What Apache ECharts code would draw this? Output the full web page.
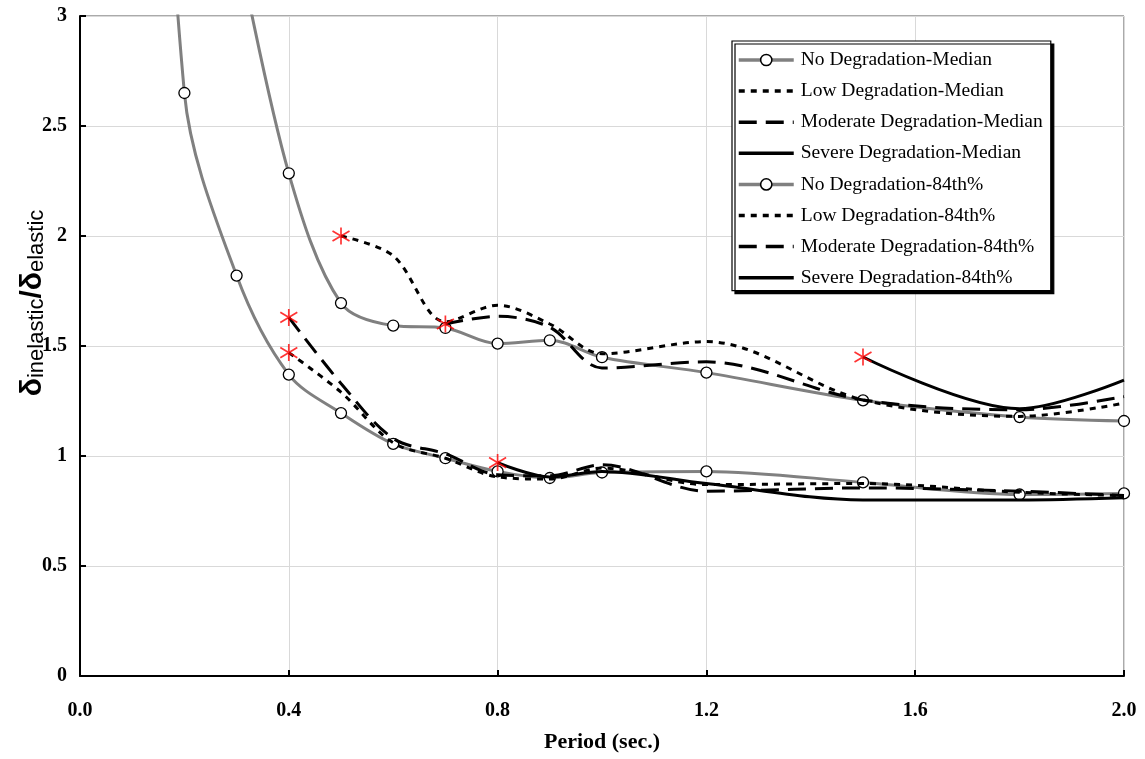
<!DOCTYPE html>
<html><head><meta charset="utf-8">
<script src="https://cdn.jsdelivr.net/npm/echarts@6/dist/echarts.min.js"></script>
<style>html,body{margin:0;padding:0;background:#fff}#c{width:1145px;height:759px}</style>
</head><body><div id="c"></div>
<script>
// ---- data ----
const xTicks = [0, 0.4, 0.8, 1.2, 1.6, 2.0];
const yTicks = [0, 0.5, 1, 1.5, 2, 2.5, 3];

const noMedT  = [0.1, 0.2, 0.3, 0.4, 0.5, 0.6, 0.7, 0.8, 0.9, 1.0, 1.2, 1.5, 1.8, 2.0];
const noMedV  = [7.0, 2.65, 1.82, 1.37, 1.195, 1.055, 0.99, 0.93, 0.90, 0.925, 0.93, 0.88, 0.825, 0.83];
const lowMedT = [0.4, 0.5, 0.6, 0.7, 0.8, 0.9, 1.0, 1.2, 1.5, 1.8, 2.0];
const lowMedV = [1.47, 1.29, 1.06, 0.99, 0.905, 0.895, 0.945, 0.87, 0.875, 0.835, 0.82];
const modMedT = [0.4, 0.5, 0.6, 0.7, 0.8, 0.9, 1.0, 1.2, 1.5, 1.8, 2.0];
const modMedV = [1.63, 1.33, 1.08, 1.01, 0.915, 0.91, 0.96, 0.84, 0.855, 0.84, 0.82];
const sevMedT = [0.8, 0.9, 1.0, 1.2, 1.5, 1.8, 2.0];
const sevMedV = [0.97, 0.905, 0.93, 0.875, 0.80, 0.80, 0.81];

const no84T  = [0.3, 0.4, 0.5, 0.6, 0.7, 0.8, 0.9, 1.0, 1.2, 1.5, 1.8, 2.0];
const no84V  = [3.35, 2.285, 1.695, 1.593, 1.582, 1.511, 1.526, 1.449, 1.379, 1.253, 1.177, 1.159];
const low84T = [0.5, 0.6, 0.7, 0.8, 0.9, 1.0, 1.2, 1.5, 1.8, 2.0];
const low84V = [2.0, 1.91, 1.61, 1.685, 1.60, 1.465, 1.52, 1.255, 1.18, 1.24];
const mod84T = [0.7, 0.8, 0.9, 1.0, 1.2, 1.5, 1.8, 2.0];
const mod84V = [1.60, 1.635, 1.585, 1.40, 1.428, 1.255, 1.21, 1.27];
const sev84T = [1.5, 1.8, 2.0];
const sev84V = [1.45, 1.215, 1.345];

const names = ['No Degradation-Median','Low Degradation-Median','Moderate Degradation-Median','Severe Degradation-Median',
               'No Degradation-84th%','Low Degradation-84th%','Moderate Degradation-84th%','Severe Degradation-84th%'];
const withMarkers = [true, false, false, false, true, false, false, false];

// ---- build ----
const pair = (t, v) => t.map((x, i) => [x, v[i]]);
const SMOOTH = 0.33;
const FONT = '"Liberation Serif","Times New Roman",serif';

function graySeries(name, t, v) {
  return { name, type: 'line', data: pair(t, v), smooth: SMOOTH, clip: true,
    symbol: 'circle', symbolSize: 11, showAllSymbol: true,
    lineStyle: { color: '#808080', width: 3 },
    itemStyle: { color: '#ffffff', borderColor: '#000', borderWidth: 1.3 }, z: 3 };
}
function blackSeries(name, t, v, dash) {
  return { name, type: 'line', data: pair(t, v), smooth: SMOOTH, clip: true,
    symbol: 'none',
    lineStyle: { color: '#000', width: 3, type: dash },
    itemStyle: { color: '#000' }, z: 4 };
}
const dotted = [6, 6], longDash = [18, 9];

const degraded = [[lowMedT, lowMedV], [modMedT, modMedV], [sevMedT, sevMedV], [low84T, low84V], [mod84T, mod84V], [sev84T, sev84V]];
const starData = degraded.map(([t, v]) => [t[0], v[0]]);

const series = [
  graySeries(names[0], noMedT, noMedV),
  blackSeries(names[1], lowMedT, lowMedV, dotted),
  blackSeries(names[2], modMedT, modMedV, longDash),
  blackSeries(names[3], sevMedT, sevMedV, 'solid'),
  graySeries(names[4], no84T, no84V),
  blackSeries(names[5], low84T, low84V, dotted),
  blackSeries(names[6], mod84T, mod84V, longDash),
  blackSeries(names[7], sev84T, sev84V, 'solid'),
  { name: 'start', type: 'scatter', data: starData, z: 10,
    symbol: 'path://M10,0 L10,20 M1,4 L19,16 M1,16 L19,4', symbolSize: [17, 17],
    itemStyle: { color: 'rgba(0,0,0,0)', borderColor: '#ff0000', borderWidth: 1.7 } }
];

const legendData = names.map((n, i) => withMarkers[i]
  ? { name: n, itemStyle: { color: '#ffffff', borderColor: '#000', borderWidth: 1.5 } }
  : { name: n, itemStyle: { color: 'rgba(0,0,0,0)', borderColor: 'rgba(0,0,0,0)', borderWidth: 0, opacity: 0 } });

const chart = echarts.init(document.getElementById('c'), null, { renderer: 'canvas' });
chart.setOption({
  animation: false,
  backgroundColor: '#fff',
  grid: { left: 80, right: 21, top: 16, bottom: 83, show: true, borderColor: '#555', borderWidth: 1 },
  xAxis: {
    type: 'value', min: xTicks[0], max: xTicks[xTicks.length - 1], interval: 0.4,
    name: 'Period (sec.)', nameLocation: 'middle', nameGap: 55,
    nameTextStyle: { fontFamily: FONT, fontWeight: 'bold', fontSize: 22, color: '#000' },
    axisLine: { show: true, onZero: false, lineStyle: { color: '#000', width: 2 } },
    axisTick: { show: true, inside: true, length: 6, lineStyle: { color: '#000', width: 2 } },
    axisLabel: { fontFamily: FONT, fontWeight: 'bold', fontSize: 20, color: '#000', margin: 25,
      formatter: v => v.toFixed(1) },
    splitLine: { show: true, lineStyle: { color: '#d9d9d9', width: 1 } }
  },
  yAxis: {
    type: 'value', min: yTicks[0], max: yTicks[yTicks.length - 1], interval: 0.5,
    axisLine: { show: true, onZero: false, lineStyle: { color: '#000', width: 2 } },
    axisTick: { show: true, inside: true, length: 6, lineStyle: { color: '#000', width: 2 } },
    axisLabel: { fontFamily: FONT, fontWeight: 'bold', fontSize: 20, color: '#000', margin: 13,
      formatter: v => String(v) },
    splitLine: { show: true, lineStyle: { color: '#d9d9d9', width: 1 } }
  },
  legend: {
    data: legendData, orient: 'vertical', left: 732, top: 41,
    itemWidth: 55, itemHeight: 14, itemGap: 11.1,
    padding: [9, 8, 3, 5],
    backgroundColor: '#fff', borderColor: '#000', borderWidth: 1.2,
    shadowColor: '#000', shadowOffsetX: 3, shadowOffsetY: 3, shadowBlur: 0,
    lineStyle: { width: 3.5 },
    textStyle: { fontFamily: FONT, fontSize: 19.5, color: '#000', padding: [0, 0, 0, 2] },
    selectedMode: false
  },
  graphic: [{
    type: 'text', x: 30, y: 303, rotation: Math.PI / 2,
    style: {
      text: '{d|δ}{s|inelastic}{d|/δ}{s|elastic}',
      align: 'center', verticalAlign: 'middle',
      rich: {
        d: { fontFamily: '"Liberation Sans Narrow","Liberation Sans",sans-serif', fontSize: 30, fontWeight: 'bold', fill: '#000', verticalAlign: 'bottom' },
        s: { fontFamily: '"Liberation Sans Narrow","Liberation Sans",sans-serif', fontSize: 22, fontWeight: 'normal', fill: '#000', padding: [13, 0, 0, 0], verticalAlign: 'bottom' }
      }
    }
  }],
  series
});
</script></body></html>
